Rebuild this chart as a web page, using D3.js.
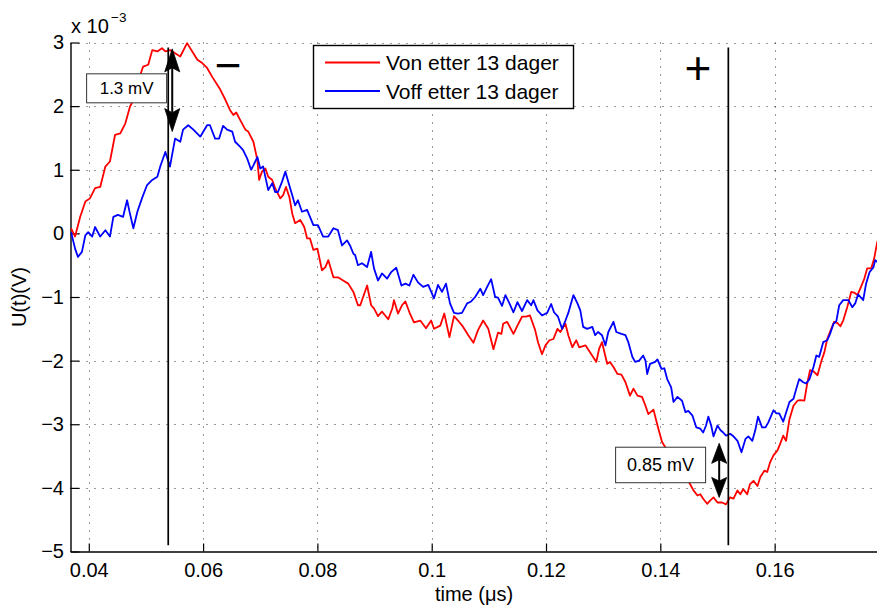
<!DOCTYPE html>
<html>
<head>
<meta charset="utf-8">
<script src="https://cdn.jsdelivr.net/npm/d3@7"></script>
<style>
  html, body { margin: 0; padding: 0; background: #fff; }
  svg { display: block; }
  text { font-family: "Liberation Sans", Arial, Helvetica, sans-serif; fill: #000; }
</style>
</head>
<body>
<svg id="chart" width="877" height="610"></svg>
<script>
// Measured voltage after 13 days: [time (µs), U (×10⁻³ V)]
const vonSamples = [
  [0.0369,0.08],[0.0376,-0.05],[0.0385,0.26],[0.0394,0.50],[0.0402,0.55],[0.0411,0.71],[0.0420,0.73],[0.0429,1.05],
  [0.0437,1.13],[0.0446,1.55],[0.0455,1.57],[0.0464,1.73],[0.0472,1.99],[0.0481,2.15],[0.0490,2.49],[0.0495,2.62],
  [0.0504,2.65],[0.0511,2.88],[0.0520,2.86],[0.0528,2.91],[0.0534,2.86],[0.0542,2.88],[0.0551,2.83],[0.0560,2.78],
  [0.0572,2.99],[0.0581,2.86],[0.0590,2.73],[0.0598,2.68],[0.0607,2.60],[0.0616,2.46],[0.0630,2.26],[0.0639,2.10],
  [0.0647,1.94],[0.0653,1.86],[0.0658,1.90],[0.0665,1.78],[0.0674,1.63],[0.0679,1.60],[0.0688,1.44],[0.0695,1.15],
  [0.0698,0.84],[0.0703,0.97],[0.0709,1.02],[0.0714,0.89],[0.0721,0.84],[0.0726,0.71],[0.0735,0.55],[0.0740,0.60],
  [0.0745,0.73],[0.0751,0.57],[0.0756,0.31],[0.0761,0.16],[0.0770,0.21],[0.0777,0.10],[0.0782,-0.08],[0.0787,-0.08],
  [0.0793,-0.26],[0.0800,-0.24],[0.0808,-0.58],[0.0814,-0.53],[0.0819,-0.42],[0.0828,-0.69],[0.0836,-0.69],[0.0845,-0.74],
  [0.0854,-0.79],[0.0863,-0.92],[0.0871,-1.13],[0.0875,-1.13],[0.0880,-1.00],[0.0887,-0.82],[0.0894,-1.13],[0.0899,-1.18],
  [0.0906,-1.30],[0.0913,-1.23],[0.0924,-1.35],[0.0931,-1.18],[0.0934,-1.05],[0.0941,-1.26],[0.0948,-1.13],[0.0954,-1.07],
  [0.0961,-1.24],[0.0969,-1.40],[0.0980,-1.37],[0.0990,-1.49],[0.0999,-1.37],[0.1004,-1.50],[0.1015,-1.45],[0.1022,-1.26],
  [0.1031,-1.63],[0.1039,-1.30],[0.1046,-1.37],[0.1055,-1.47],[0.1064,-1.60],[0.1073,-1.72],[0.1081,-1.52],[0.1090,-1.37],
  [0.1099,-1.50],[0.1108,-1.82],[0.1116,-1.56],[0.1122,-1.58],[0.1125,-1.42],[0.1132,-1.39],[0.1143,-1.58],[0.1150,-1.45],
  [0.1158,-1.31],[0.1165,-1.31],[0.1172,-1.29],[0.1181,-1.52],[0.1186,-1.71],[0.1193,-1.90],[0.1199,-1.76],[0.1206,-1.68],
  [0.1213,-1.66],[0.1220,-1.50],[0.1225,-1.55],[0.1234,-1.42],[0.1239,-1.60],[0.1246,-1.79],[0.1253,-1.68],[0.1258,-1.79],
  [0.1269,-1.76],[0.1277,-1.87],[0.1288,-2.02],[0.1293,-1.81],[0.1298,-1.71],[0.1307,-2.05],[0.1312,-2.02],[0.1318,-2.10],
  [0.1325,-2.21],[0.1332,-2.22],[0.1339,-2.34],[0.1347,-2.55],[0.1353,-2.44],[0.1360,-2.55],[0.1368,-2.57],[0.1374,-2.71],
  [0.1379,-2.84],[0.1388,-2.77],[0.1396,-3.05],[0.1403,-3.28],[0.1412,-3.41],[0.1426,-3.55],[0.1440,-3.75],[0.1452,-3.94],
  [0.1458,-4.04],[0.1465,-4.12],[0.1470,-4.10],[0.1475,-4.17],[0.1482,-4.25],[0.1487,-4.20],[0.1493,-4.15],[0.1500,-4.23],
  [0.1508,-4.23],[0.1515,-4.26],[0.1522,-4.15],[0.1528,-4.17],[0.1535,-4.04],[0.1540,-4.10],[0.1545,-4.02],[0.1552,-4.10],
  [0.1557,-3.94],[0.1563,-3.89],[0.1570,-3.97],[0.1575,-3.83],[0.1582,-3.73],[0.1587,-3.75],[0.1592,-3.60],[0.1598,-3.49],
  [0.1605,-3.41],[0.1610,-3.30],[0.1615,-3.18],[0.1620,-3.26],[0.1626,-2.92],[0.1633,-2.71],[0.1640,-2.63],[0.1645,-2.62],
  [0.1652,-2.63],[0.1657,-2.36],[0.1662,-2.15],[0.1668,-2.17],[0.1675,-2.23],[0.1682,-2.00],[0.1687,-1.87],[0.1692,-1.66],
  [0.1699,-1.50],[0.1704,-1.39],[0.1710,-1.41],[0.1715,-1.46],[0.1720,-1.37],[0.1727,-1.16],[0.1734,-0.92],[0.1739,-0.93],
  [0.1745,-0.97],[0.1752,-0.82],[0.1757,-0.71],[0.1762,-0.55],[0.1769,-0.55],[0.1774,-0.40],[0.1780,-0.12]
];

const voffSamples = [
  [0.0369,0.02],[0.0376,-0.24],[0.0381,-0.37],[0.0388,-0.29],[0.0394,-0.03],[0.0399,0.02],[0.0406,-0.05],[0.0411,0.10],
  [0.0420,-0.05],[0.0429,0.05],[0.0437,-0.05],[0.0443,0.26],[0.0451,0.29],[0.0460,0.26],[0.0467,0.52],[0.0472,0.31],
  [0.0478,0.08],[0.0485,0.34],[0.0493,0.55],[0.0502,0.76],[0.0511,0.84],[0.0520,0.89],[0.0525,1.05],[0.0534,1.28],
  [0.0542,1.05],[0.0551,1.49],[0.0560,1.44],[0.0565,1.63],[0.0574,1.70],[0.0583,1.63],[0.0595,1.52],[0.0607,1.70],
  [0.0612,1.70],[0.0621,1.49],[0.0628,1.49],[0.0635,1.69],[0.0642,1.63],[0.0651,1.60],[0.0656,1.44],[0.0665,1.36],
  [0.0670,1.31],[0.0677,1.18],[0.0684,1.00],[0.0688,1.07],[0.0695,1.20],[0.0700,1.02],[0.0705,1.05],[0.0714,0.68],
  [0.0721,0.79],[0.0726,0.65],[0.0731,0.65],[0.0738,0.81],[0.0744,0.97],[0.0749,0.81],[0.0756,0.60],[0.0761,0.44],
  [0.0766,0.52],[0.0773,0.34],[0.0782,0.37],[0.0787,0.26],[0.0793,0.13],[0.0801,0.13],[0.0810,-0.05],[0.0819,-0.05],
  [0.0828,0.08],[0.0836,0.05],[0.0843,-0.19],[0.0852,-0.11],[0.0857,-0.19],[0.0863,-0.32],[0.0866,-0.34],[0.0871,-0.50],
  [0.0878,-0.47],[0.0887,-0.53],[0.0894,-0.29],[0.0899,-0.55],[0.0906,-0.74],[0.0913,-0.63],[0.0922,-0.71],[0.0929,-0.61],
  [0.0938,-0.54],[0.0947,-0.82],[0.0954,-0.79],[0.0961,-0.82],[0.0968,-0.65],[0.0976,-0.77],[0.0985,-0.84],[0.0994,-0.81],
  [0.1004,-1.02],[0.1011,-0.81],[0.1018,-0.92],[0.1025,-0.79],[0.1032,-1.10],[0.1039,-1.25],[0.1046,-1.26],[0.1053,-1.25],
  [0.1062,-1.10],[0.1069,-1.07],[0.1076,-1.00],[0.1085,-0.87],[0.1090,-0.97],[0.1097,-0.84],[0.1104,-0.72],[0.1111,-1.00],
  [0.1116,-1.01],[0.1123,-1.14],[0.1129,-0.97],[0.1136,-1.10],[0.1143,-1.24],[0.1150,-1.08],[0.1158,-1.22],[0.1167,-1.05],
  [0.1174,-1.13],[0.1178,-1.05],[0.1185,-1.21],[0.1193,-1.29],[0.1202,-1.25],[0.1209,-1.11],[0.1214,-1.24],[0.1221,-1.31],
  [0.1228,-1.50],[0.1234,-1.37],[0.1239,-1.25],[0.1248,-0.97],[0.1255,-1.10],[0.1260,-1.21],[0.1265,-1.47],[0.1272,-1.50],
  [0.1281,-1.47],[0.1286,-1.60],[0.1291,-1.55],[0.1298,-1.60],[0.1304,-1.76],[0.1309,-1.55],[0.1318,-1.39],[0.1323,-1.55],
  [0.1332,-1.58],[0.1339,-1.60],[0.1344,-1.71],[0.1351,-1.94],[0.1356,-2.02],[0.1363,-2.00],[0.1370,-1.92],[0.1374,-2.00],
  [0.1377,-2.21],[0.1382,-2.05],[0.1391,-2.02],[0.1395,-1.98],[0.1402,-2.13],[0.1407,-2.12],[0.1412,-2.29],[0.1419,-2.42],
  [0.1423,-2.65],[0.1430,-2.57],[0.1438,-2.63],[0.1444,-2.81],[0.1449,-2.79],[0.1456,-2.86],[0.1463,-3.05],[0.1470,-3.07],
  [0.1475,-3.13],[0.1480,-3.02],[0.1484,-2.88],[0.1489,-3.02],[0.1493,-3.19],[0.1500,-3.02],[0.1505,-3.09],[0.1510,-3.13],
  [0.1515,-3.18],[0.1522,-3.15],[0.1528,-3.19],[0.1535,-3.26],[0.1542,-3.44],[0.1549,-3.23],[0.1554,-3.19],[0.1561,-3.26],
  [0.1566,-3.10],[0.1571,-2.88],[0.1578,-3.05],[0.1584,-3.05],[0.1589,-2.97],[0.1598,-2.78],[0.1603,-2.83],[0.1608,-2.83],
  [0.1615,-2.96],[0.1620,-2.82],[0.1626,-2.65],[0.1633,-2.60],[0.1638,-2.44],[0.1643,-2.29],[0.1650,-2.34],[0.1655,-2.36],
  [0.1661,-2.29],[0.1668,-2.10],[0.1673,-1.92],[0.1678,-1.94],[0.1685,-1.71],[0.1692,-1.68],[0.1697,-1.58],[0.1703,-1.42],
  [0.1708,-1.38],[0.1713,-1.13],[0.1720,-1.05],[0.1729,-1.05],[0.1736,-1.16],[0.1741,-1.10],[0.1746,-0.96],[0.1755,-1.05],
  [0.1760,-0.79],[0.1766,-0.61],[0.1773,-0.53],[0.1776,-0.42],[0.1780,-0.45]
];

const seriesNames = ["Von etter 13 dager", "Voff etter 13 dager"];
const seriesColors = ["#ff0000", "#0000ff"];

const xTickValues = [0.04, 0.06, 0.08, 0.10, 0.12, 0.14, 0.16];
const xTickLabels = ["0.04", "0.06", "0.08", "0.1", "0.12", "0.14", "0.16"];
const yTickValues = [-5, -4, -3, -2, -1, 0, 1, 2, 3];
const yTickLabels = ["\u22125", "\u22124", "\u22123", "\u22122", "\u22121", "0", "1", "2", "3"];

// Marker lines and the two measured differences (mV)
const markerTimes = [0.0539, 0.1519];
const markerSpan = [2.92, -4.90];
const diffNeg = { t: 0.0546, top: 2.90, diff: 1.3, label: "1.3 mV" };
const diffPos = { t: 0.1503, top: -3.30, diff: 0.85, label: "0.85 mV" };

const svg = d3.select("#chart");
const x = d3.scaleLinear().domain([0.0368, 0.178]).range([70.5, 877.5]);
const y = d3.scaleLinear().domain([-5, 3]).range([551.5, 42.5]);
const [x0, x1] = x.range();
const [yb, yt] = y.range();

svg.append("defs").append("clipPath").attr("id", "plotClip")
  .append("rect").attr("x", x0).attr("y", yt - 2).attr("width", x1 - x0).attr("height", yb - yt + 2);

// dotted grid
const grid = svg.append("g").attr("stroke", "#333").attr("stroke-width", 1).attr("stroke-dasharray", "1,7");
grid.selectAll(".gx").data(xTickValues).join("line")
  .attr("x1", d => Math.round(x(d)) + 0.5).attr("x2", d => Math.round(x(d)) + 0.5)
  .attr("y1", yt).attr("y2", yb);
grid.selectAll(".gy").data(yTickValues.filter(v => v > -5)).join("line")
  .attr("y1", d => Math.round(y(d)) + 0.5).attr("y2", d => Math.round(y(d)) + 0.5)
  .attr("x1", x0).attr("x2", x1);

// axes with inward ticks
const xAxis = d3.axisBottom(x).tickValues(xTickValues)
  .tickFormat((d, i) => xTickLabels[i]).tickSizeInner(-8).tickSizeOuter(0).tickPadding(11);
const yAxis = d3.axisLeft(y).tickValues(yTickValues)
  .tickFormat((d, i) => yTickLabels[i]).tickSizeInner(-9).tickSizeOuter(0).tickPadding(6.5);

const gx = svg.append("g").attr("transform", `translate(0,${yb})`).call(xAxis);
const gy = svg.append("g").attr("transform", `translate(${x0},0)`).call(yAxis);
[gx, gy].forEach(g => {
  g.selectAll("path.domain").attr("stroke", "#000").attr("stroke-width", 1.4);
  g.selectAll(".tick line").attr("stroke", "#000").attr("stroke-width", 1.2);
  g.selectAll(".tick text").attr("font-size", 20).attr("font-family", '"Liberation Sans", Arial, sans-serif').attr("fill", "#000");
});

// the two traces
const line = d3.line().x(d => x(d[0])).y(d => y(d[1]));
const plot = svg.append("g").attr("clip-path", "url(#plotClip)");
[vonSamples, voffSamples].forEach((s, i) => {
  plot.append("path").datum(s).attr("d", line)
    .attr("fill", "none").attr("stroke", seriesColors[i]).attr("stroke-width", 1.8)
    .attr("stroke-linejoin", "round");
});

// vertical marker lines
svg.selectAll(".marker").data(markerTimes).join("line")
  .attr("x1", d => x(d)).attr("x2", d => x(d))
  .attr("y1", y(markerSpan[0])).attr("y2", y(markerSpan[1]))
  .attr("stroke", "#000").attr("stroke-width", 1.7);

// double-headed arrows
function doubleArrow(a, headLen, headHalf) {
  const ax = x(a.t), ya = y(a.top), yb2 = y(a.top - a.diff);
  const g = svg.append("g");
  g.append("line").attr("x1", ax).attr("x2", ax).attr("y1", ya + headLen - 4).attr("y2", yb2 - headLen + 4)
    .attr("stroke", "#000").attr("stroke-width", 2);
  const head = (tipY, dir) => {
    const b = tipY + dir * headLen, n = tipY + dir * headLen * 0.82;
    return `M${ax},${tipY}L${ax + headHalf},${b}L${ax},${n}L${ax - headHalf},${b}Z`;
  };
  g.append("path").attr("d", head(ya, 1)).attr("fill", "#000").attr("stroke", "#000").attr("stroke-width", 0.8)
    .attr("stroke-linejoin", "round");
  g.append("path").attr("d", head(yb2, -1)).attr("fill", "#000").attr("stroke", "#000").attr("stroke-width", 0.8)
    .attr("stroke-linejoin", "round");
}
doubleArrow(diffNeg, 23, 7.5);
doubleArrow(diffPos, 20, 7.5);

// value boxes
function valueBox(cx, cy, w, h, label, fs) {
  const px = x(cx), py = y(cy);
  svg.append("rect").attr("x", px - w / 2).attr("y", py - h / 2).attr("width", w).attr("height", h)
    .attr("fill", "#fff").attr("stroke", "#333").attr("stroke-width", 1);
  svg.append("text").attr("x", px).attr("y", py).attr("dy", "0.36em")
    .attr("text-anchor", "middle").attr("font-size", fs).text(label);
}
valueBox(0.04662, 2.28, 80, 29, diffNeg.label, 17);
valueBox(0.14005, -3.64, 90, 35.5, diffPos.label, 18);

// polarity signs
svg.append("text").attr("x", x(0.0644)).attr("y", y(2.63)).attr("dy", "0.33em")
  .attr("text-anchor", "middle").attr("font-size", 46).text("\u2212");
svg.append("text").attr("x", x(0.1466)).attr("y", y(2.59)).attr("dy", "0.33em")
  .attr("text-anchor", "middle").attr("font-size", 46).text("+");

// legend
const lg = svg.append("g");
lg.append("rect").attr("x", 313.5).attr("y", 45.5).attr("width", 260).attr("height", 63)
  .attr("fill", "#fff").attr("stroke", "#000").attr("stroke-width", 1.4);
seriesNames.forEach((name, i) => {
  const ly = 62.5 + i * 28.5;
  lg.append("line").attr("x1", 325).attr("x2", 380).attr("y1", ly).attr("y2", ly)
    .attr("stroke", seriesColors[i]).attr("stroke-width", 1.8);
  lg.append("text").attr("x", 386).attr("y", ly).attr("dy", "0.36em").attr("font-size", 21).text(name);
});

// axis labels and exponent
svg.append("text").attr("x", 71).attr("y", 33).attr("font-size", 20).text("x 10");
svg.append("text").attr("x", 111).attr("y", 22).attr("font-size", 13.5).text("\u22123");
svg.append("text").attr("transform", `translate(26,${(yt + yb) / 2}) rotate(-90)`)
  .attr("text-anchor", "middle").attr("font-size", 20).text("U(t)(V)");
svg.append("text").attr("x", (x0 + x1) / 2).attr("y", 601)
  .attr("text-anchor", "middle").attr("font-size", 20).text("time (\u03bcs)");
</script>
</body>
</html>
